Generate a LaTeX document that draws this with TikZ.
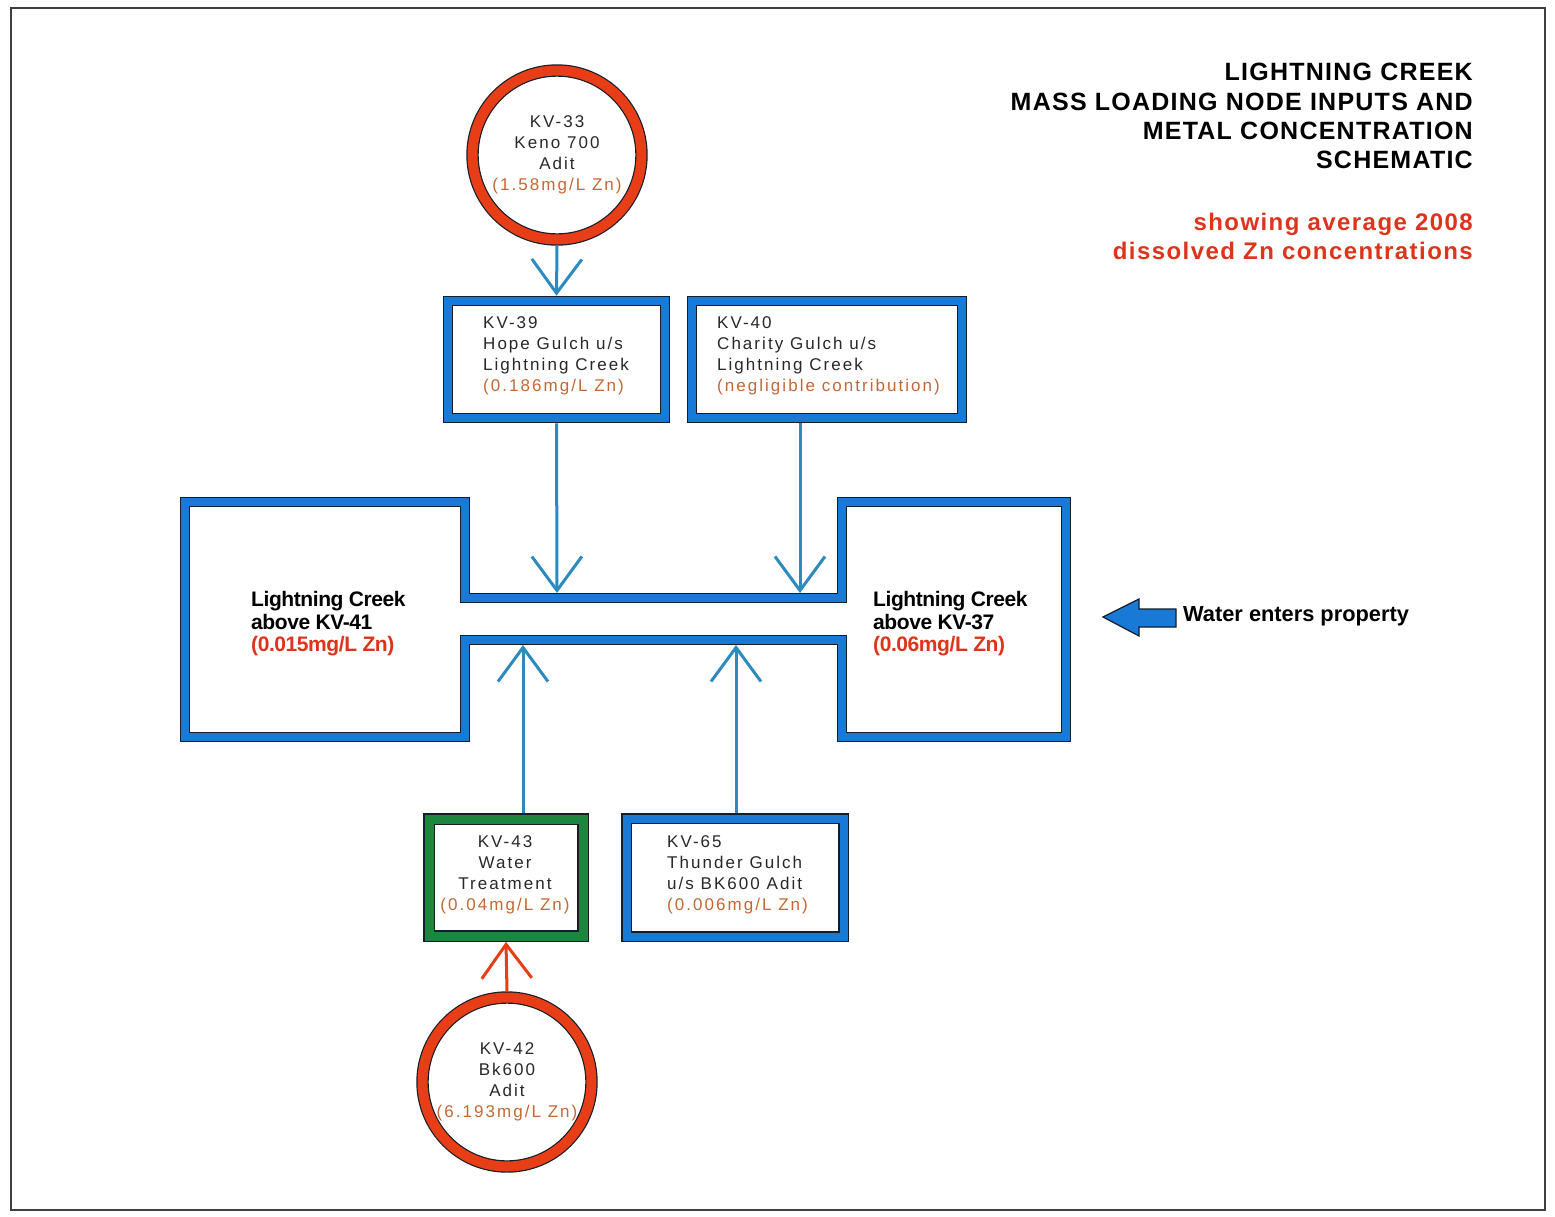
\documentclass[tikz,border=0pt]{standalone}
\usepackage{fontspec}
\setmainfont{Liberation Sans}
\newfontfamily\smf[LetterSpace=12]{Liberation Sans}
\newfontfamily\tlf[LetterSpace=5]{Liberation Sans}
\newfontfamily\stf[LetterSpace=6]{Liberation Sans}
\newfontfamily\bgf[LetterSpace=-2]{Liberation Sans}
\usetikzlibrary{arrows.meta}
\definecolor{boxblue}{RGB}{24,122,214}
\definecolor{conn}{RGB}{44,138,190}
\definecolor{ringred}{RGB}{232,62,24}
\definecolor{boxgreen}{RGB}{28,134,62}
\definecolor{conc}{RGB}{196,104,52}
\definecolor{bigred}{RGB}{222,52,28}
\definecolor{edge}{RGB}{20,30,40}
\definecolor{txt}{RGB}{40,40,40}
\begin{document}
\begin{tikzpicture}[x=1pt,y=-1pt,
  frame/.style={draw=black!75,line width=2pt},
  bluebox/.style={rectangle,draw=edge,line width=1.3pt,double=boxblue,double distance=8pt,fill=white,inner sep=0pt,outer sep=5.3pt},
  greenbox/.style={rectangle,draw=edge,line width=1.3pt,double=boxgreen,double distance=9pt,fill=white,inner sep=0pt,outer sep=5.8pt},
  ring/.style={circle,draw=edge,line width=1.2pt,double=ringred,double distance=10pt,fill=white,inner sep=0pt,outer sep=6pt,minimum size=169pt,align=center,text=txt,font=\smf\fontsize{17}{21}\selectfont},
  smalltext/.style={inner sep=0pt,text=txt,font=\smf\fontsize{17}{21}\selectfont},
  bigtext/.style={inner sep=0pt,align=left,text=black,font=\bgf\bfseries\fontsize{21}{22.5}\selectfont},
  hshape/.style={draw=edge,line width=1.3pt,double=boxblue,double distance=8pt,line join=miter},
  connector/.style={draw=conn,line width=3pt,-{Straight Barb[length=34pt,width=50pt]}},
  redconnector/.style={draw=ringred,line width=3pt,-{Straight Barb[length=34pt,width=50pt]}},
  water/.style={draw=edge,line width=1.2pt,fill=boxblue,line join=miter}
]
\useasboundingbox (0,0) rectangle (1555,1216);
\fill[white] (0,0) rectangle (1555,1216);
\draw[frame] (11,8) rectangle (1545,1210);

% title
\node[anchor=east,align=right,inner sep=0pt,font=\tlf\bfseries\fontsize{25}{29.2}\selectfont,text=black] (title) at (1473,116)
  {LIGHTNING CREEK\\MASS LOADING NODE INPUTS AND\\METAL CONCENTRATION\\SCHEMATIC};
\node[anchor=east,align=right,inner sep=0pt,font=\stf\bfseries\fontsize{24}{29}\selectfont,text=bigred] (subtitle) at (1473,236)
  {showing average 2008\\dissolved Zn concentrations};

% H-shaped main channel
\draw[hshape] (185,502) -- (465,502) -- (465,598) -- (842,598) -- (842,502) -- (1066,502)
  -- (1066,737) -- (842,737) -- (842,640) -- (465,640) -- (465,737) -- (185,737) -- cycle;
\node[bigtext,anchor=west] (lc41) at (251,624) {Lightning Creek\\above KV-41\\\textcolor{bigred}{(0.015mg/L Zn)}};
\node[bigtext,anchor=west] (lc37) at (873,624) {Lightning Creek\\above KV-37\\\textcolor{bigred}{(0.06mg/L Zn)}};
\coordinate (c39) at (557,593);
\coordinate (c40) at (800,593);
\coordinate (c43) at (523,645);
\coordinate (c65) at (736,645);

% water enters
\draw[water] (1176,609) -- (1139,609) -- (1139,599) -- (1103,617) -- (1139,636) -- (1139,627) -- (1176,627) -- cycle;
\node[anchor=west,inner sep=0pt,font=\bfseries\fontsize{21.8}{22}\selectfont,text=black] (waterlbl) at (1183,616) {Water enters property};

% top circle
\node[ring] (kv33) at (557,155) {KV-33\\Keno 700\\Adit\\\textcolor{conc}{(1.58mg/L Zn)}};

% upper boxes
\node[bluebox,minimum width=217pt,minimum height=117pt] (kv39) at (556.5,359.5) {};
\node[smalltext,anchor=west,align=left] (kv39t) at (483,356) {KV-39\\Hope Gulch u/s\\Lightning Creek\\\textcolor{conc}{(0.186mg/L Zn)}};
\node[bluebox,minimum width=270pt,minimum height=117pt] (kv40) at (827,359.5) {};
\node[smalltext,anchor=west,align=left] (kv40t) at (717,356) {KV-40\\Charity Gulch u/s\\Lightning Creek\\\textcolor{conc}{(negligible contribution)}};

% lower boxes
\node[greenbox,minimum width=154pt,minimum height=117pt] (kv43) at (506,877.5) {};
\node[smalltext,align=center] (kv43t) at (505,875) {KV-43\\Water\\Treatment\\\textcolor{conc}{(0.04mg/L Zn)}};
\node[bluebox,minimum width=217pt,minimum height=118pt] (kv65) at (735,877.5) {};
\node[smalltext,anchor=west,align=left] (kv65t) at (667,875) {KV-65\\Thunder Gulch\\u/s BK600 Adit\\\textcolor{conc}{(0.006mg/L Zn)}};

% bottom circle
\node[ring] (kv42) at (507,1082) {KV-42\\Bk600\\Adit\\\textcolor{conc}{(6.193mg/L Zn)}};

% connectors
\draw[connector] (kv33.south) -- (kv39.north);
\draw[connector] (kv39.south) -- (c39);
\draw[connector] (c40 |- kv40.south) -- (c40);
\draw[connector] (c43 |- kv43.north) -- (c43);
\draw[connector] (c65 |- kv65.north) -- (c65);
\draw[redconnector] (kv42.north) -- (kv43.south);
\end{tikzpicture}
\end{document}
